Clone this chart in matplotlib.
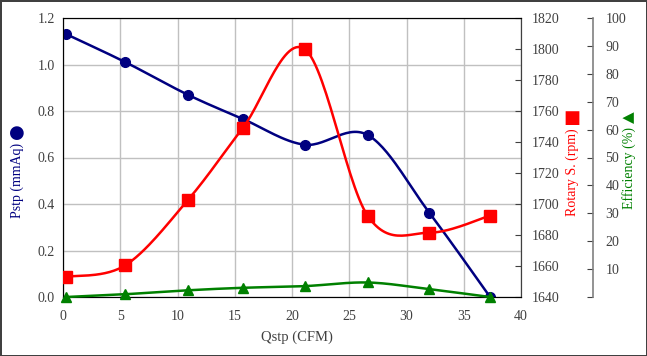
import numpy as np
import matplotlib
matplotlib.use('Agg')
import matplotlib.pyplot as plt
from matplotlib.ticker import FuncFormatter

# values
qstp = [0.3, 5.45, 10.9, 15.7, 21.1, 26.6, 32.0, 37.3]
pstp = [1.13, 1.01, 0.87, 0.766, 0.655, 0.697, 0.362, 0.0]
rpm = [1653, 1660.5, 1702.5, 1749, 1800, 1692.5, 1681.5, 1692.5]
eff = [0.0, 1.0, 2.4, 3.3, 3.9, 5.2, 2.8, 0.0]

x_ticks = [0, 5, 10, 15, 20, 25, 30, 35, 40]

plt.rcParams['font.family'] = ['Liberation Serif', 'DejaVu Sans']
plt.rcParams['font.size'] = 10


def smooth(xs, ys, n=30):
    # excel-like smoothed line (catmull-rom as cubic bezier)
    xs = np.asarray(xs, float)
    ys = np.asarray(ys, float)
    pts = np.column_stack([xs, ys])
    out = []
    for i in range(len(pts) - 1):
        p0 = pts[max(i - 1, 0)]
        p1 = pts[i]
        p2 = pts[i + 1]
        p3 = pts[min(i + 2, len(pts) - 1)]
        c1 = p1 + (p2 - p0) / 6
        c2 = p2 - (p3 - p1) / 6
        t = np.linspace(0, 1, n)[:, None]
        seg = ((1 - t) ** 3) * p1 + 3 * ((1 - t) ** 2) * t * c1 + 3 * (1 - t) * t ** 2 * c2 + t ** 3 * p2
        out.append(seg if i == 0 else seg[1:])
    seg = np.vstack(out)
    return seg[:, 0], seg[:, 1]


navy = '#000080'
red = '#ff0000'
green = '#008000'
tcol = '#404040'

fig = plt.figure(figsize=(6.47, 3.56), dpi=100, edgecolor='#404040', linewidth=2)
ax = fig.add_axes([63 / 647, 1 - 297 / 356, 458 / 647, 279 / 356])
ax2 = ax.twinx()
ax3 = ax.twinx()

ax.set_xlim(0, 40)
ax.set_ylim(0, 1.2)
ax.set_xticks(x_ticks)
ax.set_yticks(np.arange(0, 1.21, 0.2))
ax.yaxis.set_major_formatter(FuncFormatter(lambda v, p: f'{v:.1f}'))
ax.grid(True, color='#c0c0c0', lw=1)
ax.set_axisbelow(True)
ax.tick_params(axis='y', length=0, colors=tcol, labelsize=10, pad=6)
ax.tick_params(axis='x', length=0, colors=tcol, labelsize=10, pad=9)
for s in ax.spines.values():
    s.set_color('#404040')

sx, sy = smooth(qstp, pstp)
ax.plot(sx, sy, color=navy, lw=1.8, zorder=3)
ax.plot(qstp, pstp, 'o', color=navy, ms=7, zorder=4)

ax2.set_ylim(1640, 1820)
ax2.set_yticks(np.arange(1640, 1821, 20))
ax2.tick_params(direction='in', length=4, colors=tcol, labelsize=10, pad=8)
ax2.spines['right'].set_color('#404040')
sx, sy = smooth(qstp, rpm)
ax2.plot(sx, sy, color=red, lw=1.8, zorder=3)
ax2.plot(qstp, rpm, 's', color=red, ms=8, zorder=4)

ax3.set_ylim(0, 100)
ax3.set_yticks(np.arange(0, 101, 10))
ax3.yaxis.set_major_formatter(FuncFormatter(lambda v, p: '' if v == 0 else f'{v:.0f}'))
ax3.spines['right'].set_position(('axes', 1 + 72 / 458))
ax3.spines['right'].set_color('#808080')
ax3.spines['right'].set_linewidth(1.2)
for k in ['top', 'bottom', 'left']:
    ax3.spines[k].set_visible(False)
ax3.tick_params(direction='in', length=4, colors=tcol, labelsize=10, pad=9)
sx, sy = smooth(qstp, eff)
ax3.plot(sx, sy, color=green, lw=1.8, zorder=3, clip_on=False)
ax3.plot(qstp, eff, '^', color=green, ms=7, zorder=4, clip_on=False)

H = 356.0
fig.text(297 / 647, 1 - 337 / H, 'Qstp (CFM)', ha='center', va='center', color=tcol, fontsize=10.5)
fig.text(17 / 647, 1 - 218 / H, 'Pstp (mmAq)', rotation=90, ha='center', va='bottom', color=navy, fontsize=10)
fig.text(17 / 647, 1 - 133 / H, '\u25cf', family='DejaVu Sans', ha='center', va='center', color=navy, fontsize=13)
fig.text(572 / 647, 1 - 216 / H, 'Rotary S. (rpm)', rotation=90, ha='center', va='bottom', color=red, fontsize=10)
fig.text(572 / 647, 1 - 118 / H, '\u25a0', family='DejaVu Sans', ha='center', va='center', color=red, fontsize=13)
fig.text(629 / 647, 1 - 209 / H, 'Efficiency (%)', rotation=90, ha='center', va='bottom', color=green, fontsize=10)
fig.text(629 / 647, 1 - 117 / H, '\u25b2', family='DejaVu Sans', rotation=90, ha='center', va='center', color=green, fontsize=11)

fig.savefig('out.png', dpi=100, edgecolor=fig.get_edgecolor())
